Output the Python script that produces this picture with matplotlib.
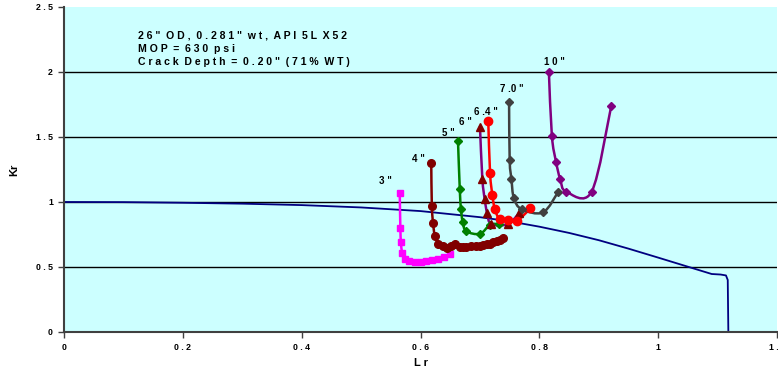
import matplotlib
matplotlib.use('Agg')
import matplotlib.pyplot as plt
from matplotlib.path import Path
from matplotlib.patches import PathPatch
import numpy as np

plt.rcParams['font.family'] = ['Liberation Sans', 'DejaVu Sans']

# failure assessment curve
fac_lr = [0.0, 0.1, 0.2, 0.3, 0.4, 0.5, 0.6, 0.7, 0.75, 0.8, 0.85, 0.9, 0.95,
          1.0, 1.05, 1.09, 1.105, 1.114, 1.117, 1.118]
fac_kr = [1.0, 0.999, 0.994, 0.987, 0.976, 0.958, 0.930, 0.883, 0.851, 0.810,
          0.762, 0.706, 0.641, 0.572, 0.502, 0.446, 0.442, 0.435, 0.40, 0.0]

# crack growth paths per defect length
lr_3 = [0.565, 0.566, 0.567, 0.569, 0.573, 0.580, 0.590, 0.600, 0.610, 0.620, 0.630, 0.640, 0.649]
kr_3 = [1.07, 0.80, 0.69, 0.61, 0.56, 0.545, 0.54, 0.54, 0.545, 0.555, 0.565, 0.58, 0.60]

lr_4 = [0.618, 0.619, 0.621, 0.624, 0.630, 0.637, 0.644, 0.651, 0.658, 0.666, 0.672,
        0.677, 0.685, 0.694, 0.700, 0.705, 0.711, 0.717, 0.722, 0.728, 0.734, 0.739]
kr_4 = [1.30, 0.97, 0.84, 0.74, 0.68, 0.66, 0.645, 0.665, 0.675, 0.655, 0.655,
        0.655, 0.66, 0.665, 0.665, 0.67, 0.675, 0.68, 0.69, 0.70, 0.71, 0.72]

lr_5 = [0.663, 0.666, 0.668, 0.671, 0.677, 0.700, 0.717, 0.732]
kr_5 = [1.47, 1.10, 0.945, 0.845, 0.775, 0.755, 0.825, 0.83]

lr_6 = [0.700, 0.704, 0.708, 0.712, 0.719, 0.747, 0.766]
kr_6 = [1.58, 1.18, 1.02, 0.915, 0.83, 0.83, 0.915]

lr_64 = [0.714, 0.717, 0.721, 0.725, 0.733, 0.748, 0.762, 0.785]
kr_64 = [1.62, 1.22, 1.05, 0.945, 0.87, 0.865, 0.855, 0.95]

lr_7 = [0.749, 0.750, 0.753, 0.757, 0.770, 0.806, 0.832]
kr_7 = [1.77, 1.32, 1.175, 1.03, 0.945, 0.92, 1.08]

lr_10 = [0.816, 0.821, 0.828, 0.835, 0.845, 0.888, 0.921]
kr_10 = [2.00, 1.51, 1.31, 1.175, 1.08, 1.08, 1.74]

# label text and anchor (Lr, Kr)
labels = ['3 "', '4 "', '5 "', '6 "', '6 .4 "', '7 .0 "', '1 0 "']
label_lr = [0.541, 0.596, 0.646, 0.675, 0.710, 0.754, 0.826]
label_kr = [1.16, 1.328, 1.528, 1.618, 1.695, 1.867, 2.08]

info_lines = ['2 6 "  O D ,  0 . 2 8 1 "  w t ,  A P I  5 L  X 5 2',
              'M O P  =  6 3 0  p s i',
              'C r a c k  D e p t h  =  0 . 2 0 "  ( 7 1 %  W T )']


def smooth_line(ax, x, y, color, lw):
    # Excel-style smoothed line (Catmull-Rom as cubic bezier)
    pts = np.column_stack([x, y])
    verts = [pts[0]]
    codes = [Path.MOVETO]
    n = len(pts)
    for i in range(n - 1):
        p0 = pts[max(i - 1, 0)]
        p1 = pts[i]
        p2 = pts[i + 1]
        p3 = pts[min(i + 2, n - 1)]
        c1 = p1 + (p2 - p0) / 6.0
        c2 = p2 - (p3 - p1) / 6.0
        verts += [c1, c2, p2]
        codes += [Path.CURVE4] * 3
    ax.add_patch(PathPatch(Path(verts, codes), facecolor='none', edgecolor=color,
                           lw=lw, zorder=3, capstyle='round', joinstyle='round'))


fig = plt.figure(figsize=(7.78, 3.69), dpi=100)
ax = fig.add_axes([0.0823, 0.1003, 0.9165, 0.8808])
ax.set_facecolor('#CCFFFF')
ax.set_xlim(0, 1.2)
ax.set_ylim(0, 2.5)

for yv in [0.5, 1.0, 1.5, 2.0]:
    ax.axhline(yv, color='black', lw=1.0, zorder=1)

ax.plot(fac_lr, fac_kr, color='#000080', lw=1.3, zorder=2)

series = [
    (lr_3, kr_3, '#FF00FF', '#FF00FF', 's', 5),
    (lr_4, kr_4, '#800000', '#800000', 'o', 5.5),
    (lr_5, kr_5, '#008000', '#008000', 'D', 4.5),
    (lr_6, kr_6, '#800080', '#800000', '^', 6),
    (lr_64, kr_64, '#FF0000', '#FF0000', 'o', 6),
    (lr_7, kr_7, '#404040', '#404040', 'D', 4.5),
    (lr_10, kr_10, '#800080', '#800080', 'D', 4.5),
]
for xs, ys, lc, mc, mk, ms in series:
    smooth_line(ax, xs, ys, lc, 1.8)
    ax.plot(xs, ys, linestyle='none', marker=mk, color=mc, markersize=ms, zorder=4)

for t, lx, ly in zip(labels, label_lr, label_kr):
    ax.text(lx, ly, t, fontsize=7, fontweight='bold', ha='center', va='center', zorder=5)

for i, line in enumerate(info_lines):
    fig.text(138 / 778, 1 - (36 + 13 * i) / 369, line, fontsize=7.6,
             fontweight='bold', ha='left', va='center')

ax.set_xticks([0, 0.2, 0.4, 0.6, 0.8, 1.0, 1.2])
ax.set_xticklabels(['0', '0 . 2', '0 . 4', '0 . 6', '0 . 8', '1', '1 . 2'])
ax.set_yticks([0, 0.5, 1.0, 1.5, 2.0, 2.5])
ax.set_yticklabels(['0', '0 . 5', '1', '1 . 5', '2', '2 . 5'])
ax.tick_params(axis='both', labelsize=6.3, direction='out', length=4,
               width=1, color='#404040', pad=4)
for lab in ax.get_xticklabels() + ax.get_yticklabels():
    lab.set_fontweight('bold')

ax.spines['top'].set_visible(False)
ax.spines['right'].set_visible(False)
ax.spines['left'].set_color('#404040')
ax.spines['bottom'].set_color('#404040')
ax.spines['left'].set_linewidth(1.5)
ax.spines['bottom'].set_linewidth(1.5)

ax.set_xlabel('L r', fontsize=8, fontweight='bold', labelpad=4)
ax.set_ylabel('Kr', fontsize=8, fontweight='bold', labelpad=12)

fig.savefig('out.png', dpi=100)
